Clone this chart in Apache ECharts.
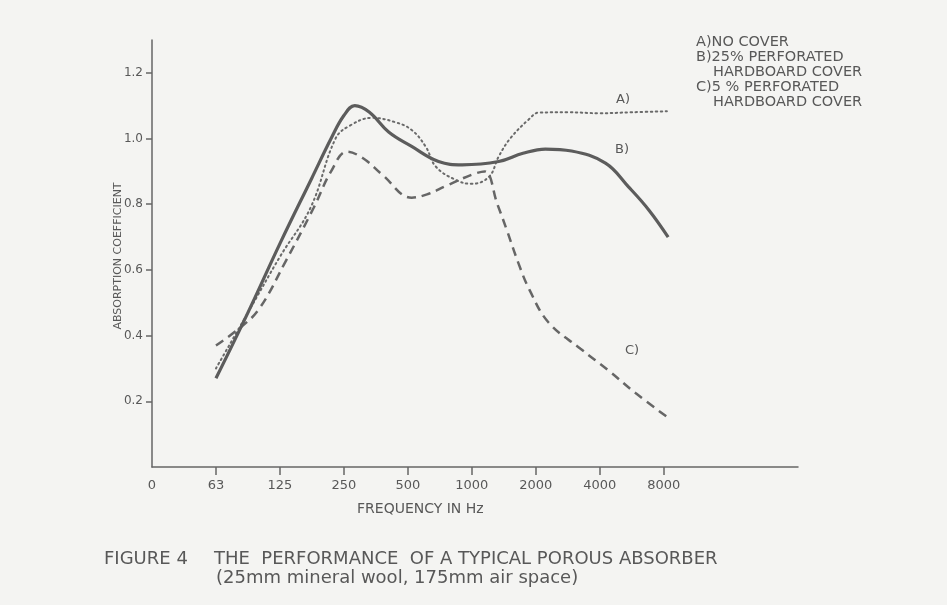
<!DOCTYPE html>
<html>
<head>
<meta charset="utf-8">
<script src="https://cdn.jsdelivr.net/npm/echarts@6/dist/echarts.min.js"></script>
<style>
html,body{margin:0;padding:0;background:#f4f4f2;}
#chart{width:947px;height:605px;}
</style>
</head>
<body>
<div id="chart"></div>
<script>
// Octave positions on the frequency axis: 0 = origin, 1 = 63 Hz, 2 = 125 Hz, ... 8 = 8000 Hz
var tickPositions = [0, 1, 2, 3, 4, 5, 6, 7, 8];
var tickLabels = ['0', '63', '125', '250', '500', '1000', '2000', '4000', '8000'];
var yTickValues = [0.2, 0.4, 0.6, 0.8, 1.0, 1.2];
var yTickLabels = ['0.2', '0.4', '0.6', '0.8', '1.0', '1.2'];

// A) No cover (dotted)
var aPos = [1.0, 1.5, 2.0, 2.48, 2.87, 3.1, 3.44, 3.8, 4.06, 4.28, 4.44, 4.75, 5.0, 5.27, 5.42, 5.6, 5.89, 6.05, 6.5, 7.0, 7.5, 8.05];
var aVal = [0.30, 0.47, 0.64, 0.79, 1.00, 1.04, 1.063, 1.05, 1.026, 0.975, 0.914, 0.874, 0.862, 0.884, 0.945, 1.00, 1.058, 1.079, 1.08, 1.077, 1.08, 1.083];

// B) 25% perforated hardboard cover (solid)
var bPos = [1.0, 1.5, 2.0, 2.5, 2.8, 3.0, 3.17, 3.4, 3.7, 4.06, 4.48, 4.85, 5.42, 5.8, 6.15, 6.56, 7.09, 7.45, 7.77, 8.07];
var bVal = [0.27, 0.47, 0.68, 0.88, 1.00, 1.07, 1.10, 1.08, 1.02, 0.976, 0.93, 0.92, 0.93, 0.955, 0.968, 0.962, 0.925, 0.853, 0.782, 0.70];

// C) 5% perforated hardboard cover (dashed)
var cPos = [1.0, 1.35, 1.67, 2.1, 2.53, 2.8, 3.05, 3.3, 3.6, 4.06, 4.3, 4.59, 5.0, 5.2, 5.4, 5.55, 5.73, 5.9, 6.2, 6.7, 7.13, 7.56, 8.07];
var cVal = [0.37, 0.42, 0.48, 0.63, 0.79, 0.90, 0.96, 0.94, 0.89, 0.82, 0.83, 0.855, 0.89, 0.90, 0.80, 0.72, 0.62, 0.54, 0.44, 0.36, 0.295, 0.225, 0.15];

function pairs(xs, ys) { return xs.map(function (x, i) { return [x, ys[i]]; }); }

var FONT = 'DejaVu Sans';
var TXT = '#585858';
var chart = echarts.init(document.getElementById('chart'), null, {renderer: 'canvas'});
chart.setOption({
  backgroundColor: '#f4f4f2',
  animation: false,
  grid: {left: 152, right: 149, top: 40, bottom: 138},
  xAxis: {
    type: 'value', min: 0, max: 10.1,
    axisLine: {show: true, lineStyle: {color: '#666', width: 1.5}},
    axisTick: {show: true, customValues: tickPositions.slice(1), length: 8, lineStyle: {color: '#666', width: 1.5}},
    axisLabel: {customValues: tickPositions, margin: 12, color: TXT, fontFamily: FONT, fontSize: 13,
      formatter: function (v) { var i = tickPositions.indexOf(Math.round(v)); return i >= 0 ? tickLabels[i] : ''; }},
    splitLine: {show: false}
  },
  yAxis: {
    type: 'value', min: 0, max: 1.3,
    axisLine: {show: true, lineStyle: {color: '#666', width: 1.5}},
    axisTick: {show: true, customValues: yTickValues, length: 6, lineStyle: {color: '#666', width: 1.5}},
    axisLabel: {customValues: yTickValues, margin: 9, color: TXT, fontFamily: FONT, fontSize: 12,
      formatter: function (v) { var i = yTickValues.findIndex(function (t) { return Math.abs(t - v) < 1e-6; }); return i >= 0 ? yTickLabels[i] : ''; }},
    splitLine: {show: false}
  },
  series: [
    {name: 'A', type: 'line', data: pairs(aPos, aVal), smooth: 0.4, symbol: 'none',
      lineStyle: {color: '#6a6a6a', width: 2, type: [1.5, 3.5], cap: 'round'}},
    {name: 'C', type: 'line', data: pairs(cPos, cVal), smooth: 0.4, symbol: 'none',
      lineStyle: {color: '#666', width: 2.5, type: [9, 6]}},
    {name: 'B', type: 'line', data: pairs(bPos, bVal), smooth: 0.4, symbol: 'none',
      lineStyle: {color: '#5c5c5c', width: 3.2}}
  ],
  graphic: [
    {type: 'text', x: 118, y: 256, rotation: Math.PI / 2,
      style: {text: 'ABSORPTION COEFFICIENT', fill: TXT, font: '11px ' + FONT, align: 'center', verticalAlign: 'middle'}},
    {type: 'text', x: 357, y: 509,
      style: {text: 'FREQUENCY IN Hz', fill: TXT, font: '14px ' + FONT, align: 'left', verticalAlign: 'middle'}},
    {type: 'text', x: 616, y: 100, style: {text: 'A)', fill: TXT, font: '13px ' + FONT, verticalAlign: 'middle'}},
    {type: 'text', x: 615, y: 150, style: {text: 'B)', fill: TXT, font: '13px ' + FONT, verticalAlign: 'middle'}},
    {type: 'text', x: 625, y: 351, style: {text: 'C)', fill: TXT, font: '13px ' + FONT, verticalAlign: 'middle'}},
    {type: 'text', x: 696, y: 42, style: {text: 'A)NO COVER', fill: TXT, font: '14.5px ' + FONT, verticalAlign: 'middle'}},
    {type: 'text', x: 696, y: 57, style: {text: 'B)25% PERFORATED', fill: TXT, font: '14.5px ' + FONT, verticalAlign: 'middle'}},
    {type: 'text', x: 713, y: 72, style: {text: 'HARDBOARD COVER', fill: TXT, font: '14.5px ' + FONT, verticalAlign: 'middle'}},
    {type: 'text', x: 696, y: 87, style: {text: 'C)5 % PERFORATED', fill: TXT, font: '14.5px ' + FONT, verticalAlign: 'middle'}},
    {type: 'text', x: 713, y: 102, style: {text: 'HARDBOARD COVER', fill: TXT, font: '14.5px ' + FONT, verticalAlign: 'middle'}},
    {type: 'text', x: 104, y: 559, style: {text: 'FIGURE 4', fill: TXT, font: '18px ' + FONT, verticalAlign: 'middle'}},
    {type: 'text', x: 214, y: 559, style: {text: 'THE  PERFORMANCE  OF A TYPICAL POROUS ABSORBER', fill: TXT, font: '18px ' + FONT, verticalAlign: 'middle'}},
    {type: 'text', x: 216, y: 578, style: {text: '(25mm mineral wool, 175mm air space)', fill: TXT, font: '18px ' + FONT, verticalAlign: 'middle'}}
  ]
});
</script>
</body>
</html>
